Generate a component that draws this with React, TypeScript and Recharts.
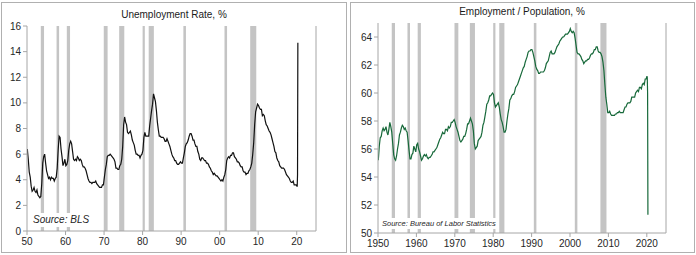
import { LineChart, Line, XAxis, YAxis, ReferenceArea } from 'recharts';

// NBER recessions (start, end) in fractional years
const recessions: [number, number][] = [
  [1953.58, 1954.42],
  [1957.67, 1958.33],
  [1960.33, 1961.17],
  [1969.92, 1970.92],
  [1973.92, 1975.25],
  [1980.0, 1980.58],
  [1981.58, 1982.92],
  [1990.58, 1991.25],
  [2001.25, 2001.92],
  [2007.92, 2009.5],
];

const xTicks = [1950, 1960, 1970, 1980, 1990, 2000, 2010, 2020];
const unempTicks = [0, 2, 4, 6, 8, 10, 12, 14, 16];
const emratioTicks = [50, 52, 54, 56, 58, 60, 62, 64];

// unemployment rate, quarterly, starting 1950 Q1
const unemp1950s = [
  6.4, 5.6, 4.6, 4.2, 3.5, 3.1, 3.2, 3.4, 3.1, 3.0, 3.2, 2.8, 2.7, 2.6, 2.7, 3.7,
  5.3, 5.8, 6.0, 5.3, 4.7, 4.4, 4.1, 4.2, 4.0, 4.2, 4.1, 4.1, 3.9, 4.1, 4.2, 4.9,
  6.3, 7.4, 7.3, 6.4, 5.8, 5.1, 5.3, 5.6,
];
const unemp1960s = [
  5.1, 5.2, 5.5, 6.3, 6.8, 7.0, 6.8, 6.2, 5.6, 5.5, 5.6, 5.5, 5.8, 5.7, 5.5, 5.6,
  5.5, 5.2, 5.0, 5.0, 4.9, 4.7, 4.4, 4.1, 3.9, 3.8, 3.8, 3.7, 3.8, 3.8, 3.8, 3.9,
  3.7, 3.6, 3.5, 3.4, 3.4, 3.4, 3.6, 3.6,
];
const unemp1970s = [
  4.2, 4.8, 5.2, 5.8, 5.9, 5.9, 6.0, 5.9, 5.8, 5.7, 5.6, 5.4, 4.9, 4.9, 4.8, 4.8,
  5.1, 5.2, 5.6, 6.6, 8.3, 8.9, 8.5, 8.3, 7.7, 7.6, 7.7, 7.8, 7.5, 7.1, 6.9, 6.7,
  6.3, 6.0, 6.0, 5.9, 5.9, 5.7, 5.9, 6.0,
];
const unemp1980s = [
  6.3, 7.3, 7.7, 7.4, 7.4, 7.4, 7.4, 8.2, 8.8, 9.4, 9.9, 10.7, 10.4, 10.1, 9.4, 8.5,
  7.9, 7.4, 7.4, 7.3, 7.3, 7.3, 7.2, 7.0, 7.0, 7.2, 7.0, 6.8, 6.6, 6.3, 6.0, 5.8,
  5.7, 5.5, 5.5, 5.3, 5.2, 5.2, 5.3, 5.4,
];
const unemp1990s = [
  5.3, 5.3, 5.7, 6.1, 6.6, 6.8, 6.9, 7.1, 7.4, 7.6, 7.6, 7.4, 7.1, 7.1, 6.8, 6.6,
  6.6, 6.2, 6.0, 5.6, 5.5, 5.7, 5.7, 5.6, 5.5, 5.5, 5.3, 5.3, 5.2, 5.0, 4.9, 4.7,
  4.6, 4.4, 4.5, 4.4, 4.3, 4.3, 4.2, 4.1,
];
const unemp2000s = [
  4.0, 3.9, 4.0, 3.9, 4.2, 4.4, 4.8, 5.5, 5.7, 5.8, 5.7, 5.9, 5.9, 6.1, 6.1, 5.8,
  5.7, 5.6, 5.4, 5.4, 5.3, 5.1, 5.0, 5.0, 4.7, 4.6, 4.6, 4.4, 4.5, 4.5, 4.7, 4.8,
  5.0, 5.3, 6.0, 6.9, 8.3, 9.3, 9.6, 9.9,
];
const unemp2010s = [
  9.8, 9.6, 9.5, 9.5, 9.0, 9.1, 9.0, 8.6, 8.3, 8.2, 8.0, 7.8, 7.7, 7.5, 7.2, 6.9,
  6.6, 6.2, 6.1, 5.7, 5.5, 5.4, 5.1, 5.0, 4.9, 4.9, 4.9, 4.8, 4.6, 4.4, 4.3, 4.2,
  4.1, 3.9, 3.8, 3.8, 3.9, 3.6, 3.6, 3.6,
];
// 2020, monthly Jan-Apr
const unemp2020 = [3.5, 3.5, 4.4, 14.7];

// employment / population ratio, quarterly, starting 1950 Q1
const emratio1950s = [
  55.2, 56.2, 56.8, 56.9, 57.3, 57.5, 57.3, 57.4, 57.6, 57.2, 57.0, 57.4, 57.9, 57.6, 57.2, 56.4,
  55.6, 55.3, 55.2, 55.5, 56.0, 56.4, 57.0, 57.2, 57.5, 57.7, 57.6, 57.4, 57.5, 57.3, 57.2, 56.6,
  55.9, 55.3, 55.3, 55.6, 55.7, 56.2, 56.0, 55.8,
];
const emratio1960s = [
  56.3, 56.4, 56.0, 55.8, 55.5, 55.2, 55.3, 55.5, 55.6, 55.5, 55.6, 55.4, 55.3, 55.4, 55.4, 55.5,
  55.6, 55.8, 55.8, 55.9, 56.0, 56.1, 56.3, 56.5, 56.7, 56.8, 57.0, 57.2, 57.1, 57.1, 57.4, 57.4,
  57.3, 57.6, 57.5, 57.6, 57.9, 57.9, 58.0, 58.1,
];
const emratio1970s = [
  57.9, 57.6, 57.4, 57.2, 56.9, 56.6, 56.5, 56.6, 56.7, 56.9, 56.9, 57.1, 57.4, 57.8, 57.8, 58.0,
  58.2, 58.0, 57.8, 57.3, 56.4, 56.0, 56.1, 56.2, 56.6, 56.7, 56.8, 56.9, 57.2, 57.7, 57.9, 58.3,
  58.7, 59.2, 59.3, 59.5, 59.8, 59.8, 59.9, 60.0,
];
const emratio1980s = [
  59.9, 59.3, 59.0, 59.1, 59.2, 59.3, 59.0, 58.5, 58.1, 57.9, 57.6, 57.2, 57.2, 57.4, 58.0, 58.5,
  58.9, 59.5, 59.6, 59.8, 59.9, 59.9, 60.1, 60.4, 60.5, 60.6, 60.8, 61.0, 61.2, 61.4, 61.6, 61.8,
  61.9, 62.2, 62.4, 62.6, 62.9, 63.0, 63.0, 63.1,
];
const emratio1990s = [
  63.1, 62.9, 62.6, 62.3, 61.9, 61.7, 61.6, 61.4, 61.4, 61.5, 61.5, 61.5, 61.5, 61.6, 61.8, 62.1,
  62.2, 62.3, 62.6, 62.9, 63.0, 62.8, 62.8, 62.8, 62.9, 63.1, 63.3, 63.4, 63.5, 63.7, 63.8, 63.9,
  64.0, 64.0, 64.1, 64.2, 64.2, 64.2, 64.3, 64.4,
];
const emratio2000s = [
  64.6, 64.4, 64.3, 64.4, 64.3, 63.9, 63.4, 62.9, 62.8, 62.8, 62.7, 62.6, 62.4, 62.3, 62.1, 62.2,
  62.3, 62.3, 62.4, 62.4, 62.5, 62.7, 62.8, 62.8, 62.9, 63.1, 63.1, 63.3, 63.3, 63.0, 62.9, 62.9,
  62.8, 62.6, 62.2, 61.6, 60.6, 59.7, 59.2, 58.6,
];
const emratio2010s = [
  58.6, 58.7, 58.5, 58.4, 58.4, 58.4, 58.4, 58.5, 58.5, 58.6, 58.6, 58.7, 58.6, 58.6, 58.6, 58.6,
  58.8, 59.0, 59.0, 59.2, 59.3, 59.3, 59.3, 59.4, 59.7, 59.7, 59.7, 59.7, 60.0, 60.1, 60.2, 60.1,
  60.4, 60.4, 60.3, 60.6, 60.7, 60.6, 61.0, 61.0,
];
const emratio2020 = [61.2, 61.1, 60.0, 51.3];

type Point = { t: number; v: number };

function buildSeries(decades: number[][], monthly2020: number[]): Point[] {
  const out: Point[] = [];
  decades.forEach((vals, d) => {
    vals.forEach((v, i) => {
      out.push({ t: 1950 + d * 10 + Math.floor(i / 4) + ((i % 4) * 3 + 1) / 12, v });
    });
  });
  monthly2020.forEach((v, m) => out.push({ t: 2020 + (m + 0.5) / 12, v }));
  return out;
}

const unempData = buildSeries(
  [unemp1950s, unemp1960s, unemp1970s, unemp1980s, unemp1990s, unemp2000s, unemp2010s],
  unemp2020,
);
const emratioData = buildSeries(
  [emratio1950s, emratio1960s, emratio1970s, emratio1980s, emratio1990s, emratio2000s, emratio2010s],
  emratio2020,
);

const axisColor = '#a6a6a6';
const tickStyle = { fill: '#262626', fontSize: 10 };
const font = '"Liberation Sans", Arial, sans-serif';

function Panel({
  left,
  title,
  titleTop,
  data,
  color,
  domain,
  yTicks,
  margin,
  yWidthLeft,
  xHeight,
  shortYears,
  source,
  sourceStyle,
}: {
  left: number;
  title: string;
  titleTop: number;
  data: Point[];
  color: string;
  domain: [number, number];
  yTicks: number[];
  margin: { top: number; right: number; bottom: number; left: number };
  yWidthLeft: number;
  xHeight: number;
  shortYears: boolean;
  source: string;
  sourceStyle: React.CSSProperties;
}) {
  return (
    <div style={{ position: 'absolute', left, top: 0, width: 348, height: 255 }}>
      <LineChart width={348} height={255} data={data} margin={margin}>
        <XAxis
          type="number"
          dataKey="t"
          domain={[1950, 2025]}
          ticks={xTicks}
          allowDataOverflow
          height={xHeight}
          stroke={axisColor}
          tick={tickStyle}
          tickSize={4}
          tickMargin={3}
          tickFormatter={(y: number) => (shortYears ? String(y % 100).padStart(2, '0') : String(y))}
        />
        <YAxis
          yAxisId="l"
          domain={domain}
          ticks={yTicks}
          width={yWidthLeft}
          stroke={axisColor}
          tick={tickStyle}
          tickSize={4}
          tickMargin={2}
        />
        <YAxis
          yAxisId="r"
          orientation="right"
          domain={domain}
          ticks={yTicks}
          width={24}
          stroke={axisColor}
          tick={tickStyle}
          tickSize={4}
          tickMargin={2}
        />
        {recessions.map(([a, b]) => (
          <ReferenceArea
            key={a}
            yAxisId="l"
            x1={a}
            x2={b}
            y1={domain[0]}
            y2={domain[1]}
            fill="#c4c4c4"
            fillOpacity={1}
            stroke="none"
          />
        ))}
        <Line
          yAxisId="l"
          type="linear"
          dataKey="v"
          stroke={color}
          strokeWidth={1.2}
          dot={false}
          isAnimationActive={false}
        />
      </LineChart>
      <div
        style={{
          position: 'absolute',
          left: 0,
          width: 348,
          top: titleTop,
          textAlign: 'center',
          fontSize: 10,
          color: '#1a1a1a',
          lineHeight: '12px',
        }}
      >
        {title}
      </div>
      <div
        style={{
          position: 'absolute',
          background: '#fff',
          fontStyle: 'italic',
          color: '#262626',
          whiteSpace: 'nowrap',
          ...sourceStyle,
        }}
      >
        {source}
      </div>
    </div>
  );
}

export default function App() {
  return (
    <div
      style={{
        position: 'fixed',
        left: 0,
        top: 0,
        width: 696,
        height: 255,
        background: '#fff',
        fontFamily: font,
      }}
    >
      <div
        style={{
          position: 'absolute',
          left: 1,
          top: 2,
          width: 346,
          height: 251,
          boxSizing: 'border-box',
          border: '1px solid #b0b0b0',
        }}
      />
      <div
        style={{
          position: 'absolute',
          left: 350,
          top: 2,
          width: 345,
          height: 251,
          boxSizing: 'border-box',
          border: '1px solid #b0b0b0',
        }}
      />
      <Panel
        left={0}
        title="Unemployment Rate, %"
        titleTop={9}
        data={unempData}
        color="#111111"
        domain={[0, 16]}
        yTicks={unempTicks}
        margin={{ top: 26, right: 8, bottom: 6, left: 7 }}
        yWidthLeft={20}
        xHeight={18}
        shortYears
        source="Source: BLS"
        sourceStyle={{ left: 32, top: 213, fontSize: 10, lineHeight: '14px', padding: '0 1px' }}
      />
      <Panel
        left={348}
        title="Employment / Population, %"
        titleTop={6}
        data={emratioData}
        color="#17693a"
        domain={[50, 65]}
        yTicks={emratioTicks}
        margin={{ top: 23, right: 6, bottom: 6, left: 8 }}
        yWidthLeft={22}
        xHeight={16}
        shortYears={false}
        source="Source: Bureau of Labor Statistics"
        sourceStyle={{ left: 33, top: 218, fontSize: 7.5, lineHeight: '11px', padding: '0 1px' }}
      />
    </div>
  );
}
